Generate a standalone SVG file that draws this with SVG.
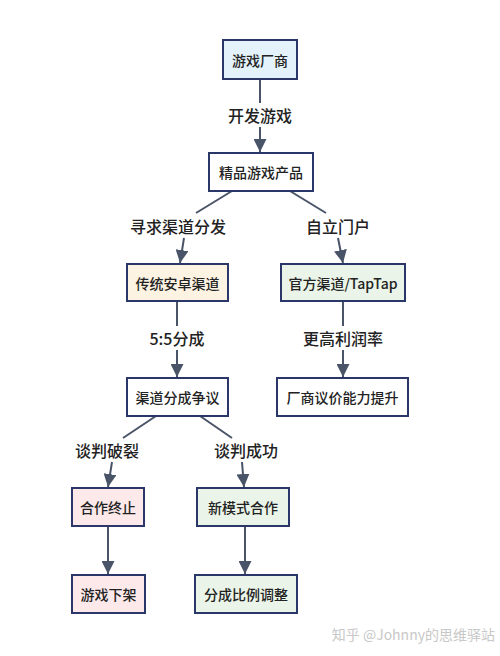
<svg xmlns="http://www.w3.org/2000/svg" width="500" height="656" viewBox="0 0 500 656">
<style>
.box{stroke:#2b3768;stroke-width:2}
.t{font-family:"Noto Sans CJK SC","Noto Sans",sans-serif;font-size:14px;font-weight:500;fill:#222;text-anchor:middle;dominant-baseline:central}
.lbl{font-family:"Noto Sans CJK SC","Noto Sans",sans-serif;font-size:16px;font-weight:500;fill:#222;text-anchor:middle;dominant-baseline:central}
.e{fill:none;stroke:#4a5468;stroke-width:2}
.blue{fill:#e3f2fb}.white{fill:#ffffff}.orange{fill:#fdf3e3}.green{fill:#eaf4e8}.pink{fill:#fde9ea}
</style>
<defs>
<marker id="ah" viewBox="0 0 12 12" refX="12" refY="6" markerWidth="13" markerHeight="13" markerUnits="userSpaceOnUse" orient="auto">
<path d="M0,0 L12,6 L0,12 Z" fill="#4a5468"/>
</marker>
</defs>
<rect width="500" height="656" fill="#ffffff"/>
<g id="connectors">
<path class="e" d="M260,79 L260,103 M260,127 L260,152" marker-end="url(#ah)"/>
<path class="e" d="M232,191 L196,213 M184,238 L180,263" marker-end="url(#ah)"/>
<path class="e" d="M290,191 L326,213 M338,238 L343,263" marker-end="url(#ah)"/>
<path class="e" d="M177,301 L177,326 M177,350 L177,377" marker-end="url(#ah)"/>
<path class="e" d="M343,301 L343,326 M343,350 L343,377" marker-end="url(#ah)"/>
<path class="e" d="M156,416 L123,438 M112,462 L108,487" marker-end="url(#ah)"/>
<path class="e" d="M200,416 L232,438 M242,462 L244,487" marker-end="url(#ah)"/>
<path class="e" d="M108,526 L108,574" marker-end="url(#ah)"/>
<path class="e" d="M245,526 L245,574" marker-end="url(#ah)"/>
<text class="lbl" x="260" y="115">开发游戏</text>
<text class="lbl" x="178" y="226">寻求渠道分发</text>
<text class="lbl" x="338" y="226">自立门户</text>
<text class="lbl" x="177" y="338">5:5分成</text>
<text class="lbl" x="343" y="338">更高利润率</text>
<text class="lbl" x="107" y="450">谈判破裂</text>
<text class="lbl" x="246" y="450">谈判成功</text>
</g>
<g id="n1"><rect class="box blue" x="223" y="40" width="74" height="39"/><text class="t" x="260" y="60">游戏厂商</text></g>
<g id="n2"><rect class="box white" x="209" y="153" width="104" height="38"/><text class="t" x="261" y="172">精品游戏产品</text></g>
<g id="n3"><rect class="box orange" x="127" y="264" width="101" height="37"/><text class="t" x="177.5" y="283">传统安卓渠道</text></g>
<g id="n4"><rect class="box green" x="281" y="264" width="124" height="37"/><text class="t" x="343" y="283">官方渠道/TapTap</text></g>
<g id="n5"><rect class="box white" x="127" y="378" width="101" height="38"/><text class="t" x="177.5" y="397">渠道分成争议</text></g>
<g id="n6"><rect class="box white" x="277" y="378" width="131" height="38"/><text class="t" x="342.5" y="397">厂商议价能力提升</text></g>
<g id="n7"><rect class="box pink" x="72" y="488" width="72" height="38"/><text class="t" x="108" y="507">合作终止</text></g>
<g id="n8"><rect class="box green" x="197" y="488" width="92" height="38"/><text class="t" x="243" y="507">新模式合作</text></g>
<g id="n9"><rect class="box pink" x="72" y="575" width="73" height="38"/><text class="t" x="108.5" y="594">游戏下架</text></g>
<g id="n10"><rect class="box green" x="195" y="575" width="102" height="38"/><text class="t" x="246" y="594">分成比例调整</text></g>
<text x="495" y="634" font-family="Noto Sans CJK SC,Noto Sans,sans-serif" font-size="14" fill="#c8c8c8" text-anchor="end" dominant-baseline="central">知乎 @Johnny的思维驿站</text>
</svg>
